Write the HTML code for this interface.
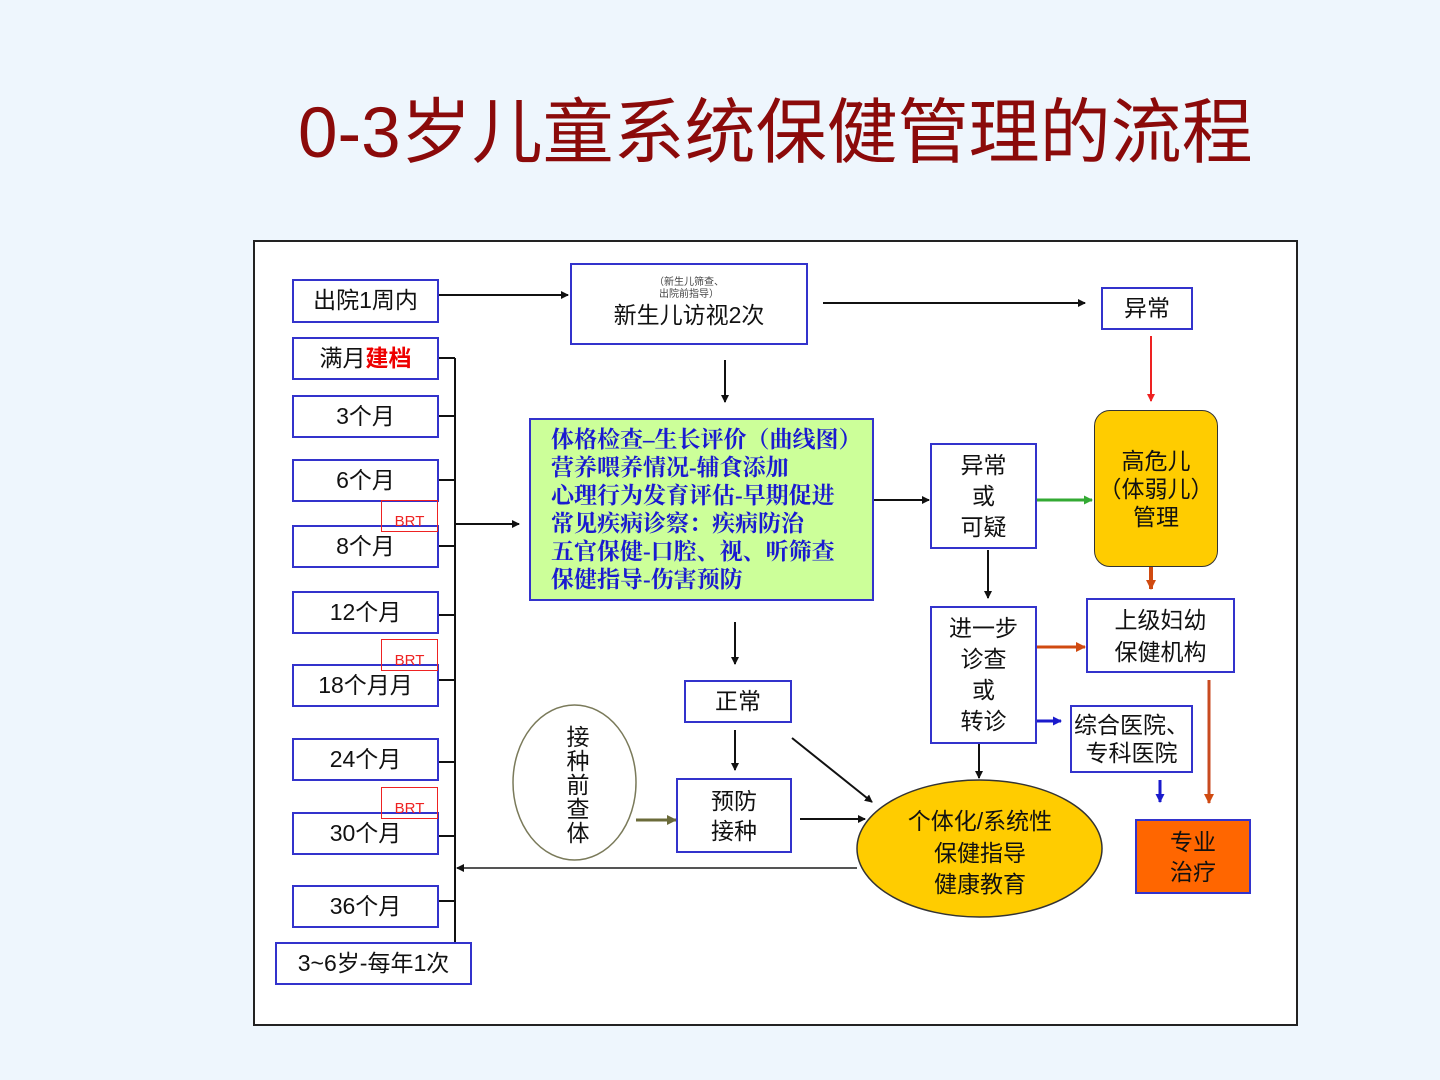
<!DOCTYPE html>
<html><head><meta charset="utf-8"><style>
body{margin:0;width:1440px;height:1080px;background:#eef6fd;position:relative;overflow:hidden;font-family:"Liberation Sans","Noto Sans CJK SC",sans-serif;}
.t{position:absolute;left:298px;top:86px;font-size:71px;color:#8b0a0a;white-space:nowrap;line-height:96px;}
.frame{position:absolute;left:253px;top:240px;width:1041px;height:782px;background:#fff;border:2px solid #222;}
.b{position:absolute;box-sizing:border-box;border:2px solid #3333cc;background:#fff;display:flex;align-items:center;justify-content:center;text-align:center;font-size:23px;color:#111;line-height:1.3;}
.brt{position:absolute;box-sizing:border-box;border:1.5px solid #e22;color:#e22;font-size:15px;display:flex;align-items:flex-end;justify-content:center;padding-bottom:1px;}
svg{position:absolute;left:0;top:0;}
</style></head><body>
<div class="t">0-3岁儿童系统保健管理的流程</div>
<div class="frame"></div>
<svg width="1440" height="1080">
<defs>
<marker id="a" markerWidth="8" markerHeight="8" refX="7" refY="4" orient="auto" markerUnits="userSpaceOnUse"><path d="M0,0 L8,4 L0,8z" fill="#111"/></marker>
<marker id="ar" markerWidth="8" markerHeight="8" refX="7" refY="4" orient="auto" markerUnits="userSpaceOnUse"><path d="M0,0 L8,4 L0,8z" fill="#e22"/></marker>
<marker id="ag" markerWidth="9" markerHeight="9" refX="8" refY="4.5" orient="auto" markerUnits="userSpaceOnUse"><path d="M0,0 L9,4.5 L0,9z" fill="#3a3"/></marker>
<marker id="ao" markerWidth="10" markerHeight="10" refX="9" refY="5" orient="auto" markerUnits="userSpaceOnUse"><path d="M0,0 L10,5 L0,10z" fill="#d04a10"/></marker>
<marker id="ab" markerWidth="9" markerHeight="9" refX="8" refY="4.5" orient="auto" markerUnits="userSpaceOnUse"><path d="M0,0 L9,4.5 L0,9z" fill="#1a1acc"/></marker>
<marker id="av" markerWidth="10" markerHeight="10" refX="9" refY="5" orient="auto" markerUnits="userSpaceOnUse"><path d="M0,0 L10,5 L0,10z" fill="#6b6b3a"/></marker>
</defs>
<g stroke="#111" stroke-width="2" fill="none">
<line x1="455" y1="358" x2="455" y2="942"/>
<line x1="438" y1="358" x2="455" y2="358"/><line x1="438" y1="416" x2="455" y2="416"/><line x1="438" y1="480" x2="455" y2="480"/><line x1="438" y1="546" x2="455" y2="546"/><line x1="438" y1="615" x2="455" y2="615"/><line x1="438" y1="680" x2="455" y2="680"/><line x1="438" y1="762" x2="455" y2="762"/><line x1="438" y1="836" x2="455" y2="836"/><line x1="438" y1="901" x2="455" y2="901"/>
<line x1="455" y1="524" x2="519" y2="524" marker-end="url(#a)"/>
<line x1="438" y1="295" x2="568" y2="295" marker-end="url(#a)"/>
<line x1="823" y1="303" x2="1085" y2="303" marker-end="url(#a)"/>
<line x1="725" y1="360" x2="725" y2="402" marker-end="url(#a)"/>
<line x1="873" y1="500" x2="929" y2="500" marker-end="url(#a)"/>
<line x1="988" y1="550" x2="988" y2="598" marker-end="url(#a)"/>
<line x1="979" y1="743" x2="979" y2="778" marker-end="url(#a)"/>
<line x1="735" y1="622" x2="735" y2="664" marker-end="url(#a)"/>
<line x1="735" y1="730" x2="735" y2="770" marker-end="url(#a)"/>
<line x1="800" y1="819" x2="865" y2="819" marker-end="url(#a)"/>
<line x1="792" y1="738" x2="872" y2="802" marker-end="url(#a)"/>
<line x1="857" y1="868" x2="457" y2="868" stroke="#555" marker-end="url(#a)"/>
</g>
<line x1="1151" y1="336" x2="1151" y2="401" stroke="#e22" stroke-width="2" marker-end="url(#ar)"/>
<line x1="1036" y1="500" x2="1092" y2="500" stroke="#3a3" stroke-width="3" marker-end="url(#ag)"/>
<line x1="1151" y1="567" x2="1151" y2="589" stroke="#d04a10" stroke-width="4" marker-end="url(#ao)"/>
<line x1="1036" y1="647" x2="1085" y2="647" stroke="#d04a10" stroke-width="3" marker-end="url(#ao)"/>
<line x1="1209" y1="680" x2="1209" y2="803" stroke="#c84a20" stroke-width="3" marker-end="url(#ao)"/>
<line x1="1036" y1="721" x2="1061" y2="721" stroke="#1a1acc" stroke-width="3" marker-end="url(#ab)"/>
<line x1="1160" y1="780" x2="1160" y2="802" stroke="#1a1acc" stroke-width="3" marker-end="url(#ab)"/>
<line x1="636" y1="820" x2="676" y2="820" stroke="#6b6b3a" stroke-width="3" marker-end="url(#av)"/>
<ellipse cx="574.5" cy="782.5" rx="61.5" ry="77.5" fill="#fff" stroke="#7a7a5a" stroke-width="1.5"/>
<ellipse cx="979.5" cy="848.5" rx="122.5" ry="68.5" fill="#ffcc00" stroke="#333" stroke-width="1.5"/>
<text x="578" y="733" font-size="23" fill="#111" text-anchor="middle" font-family="Liberation Sans,Noto Sans CJK SC,sans-serif">
<tspan x="578" dy="12">接</tspan><tspan x="578" dy="24">种</tspan><tspan x="578" dy="24">前</tspan><tspan x="578" dy="24">查</tspan><tspan x="578" dy="24">体</tspan></text>
<text text-anchor="middle" font-size="23" fill="#111" font-family="Liberation Sans,Noto Sans CJK SC,sans-serif"><tspan x="980" y="829">个体化/系统性</tspan><tspan x="980" y="861">保健指导</tspan><tspan x="980" y="892">健康教育</tspan></text>
</svg>
<div class="b" style="left:292px;top:279px;width:147px;height:44px;">出院1周内</div>
<div class="b" style="left:292px;top:337px;width:147px;height:43px;">满月<b style="color:#e00">建档</b></div>
<div class="b" style="left:292px;top:395px;width:147px;height:43px;">3个月</div>
<div class="b" style="left:292px;top:459px;width:147px;height:43px;">6个月</div>
<div class="b" style="left:292px;top:525px;width:147px;height:43px;">8个月</div>
<div class="b" style="left:292px;top:591px;width:147px;height:43px;">12个月</div>
<div class="b" style="left:292px;top:664px;width:147px;height:43px;">18个月月</div>
<div class="b" style="left:292px;top:738px;width:147px;height:43px;">24个月</div>
<div class="b" style="left:292px;top:812px;width:147px;height:43px;">30个月</div>
<div class="b" style="left:292px;top:885px;width:147px;height:43px;">36个月</div>
<div class="b" style="left:275px;top:942px;width:197px;height:43px;">3~6岁-每年1次</div>
<div class="brt" style="left:381px;top:500px;width:57px;height:32px;">BRT</div>
<div class="brt" style="left:381px;top:639px;width:57px;height:32px;">BRT</div>
<div class="brt" style="left:381px;top:787px;width:57px;height:32px;">BRT</div>
<div class="b" style="left:570px;top:263px;width:238px;height:82px;flex-direction:column;"><div style="font-size:10px;line-height:12px;color:#444">（新生儿筛查、<br>出院前指导）</div><div>新生儿访视2次</div></div>
<div class="b" style="left:1101px;top:287px;width:92px;height:43px;">异常</div>
<div class="b" style="left:529px;top:418px;width:345px;height:183px;background:#ccff99;color:#1a1ad0;font-weight:bold;font-family:'Liberation Serif','Noto Serif CJK SC',serif;font-size:23px;line-height:28px;justify-content:flex-start;text-align:left;padding-left:20px;white-space:nowrap;">体格检查–生长评价（曲线图）<br>营养喂养情况-辅食添加<br>心理行为发育评估-早期促进<br>常见疾病诊察：疾病防治<br>五官保健-口腔、视、听筛查<br>保健指导-伤害预防</div>
<div class="b" style="left:930px;top:443px;width:107px;height:106px;line-height:31px;">异常<br>或<br>可疑</div>
<div class="b" style="left:1094px;top:410px;width:124px;height:157px;background:#ffcc00;border:1.5px solid #333;border-radius:16px;line-height:28px;">高危儿<br>（体弱儿）<br>管理</div>
<div class="b" style="left:1086px;top:598px;width:149px;height:75px;line-height:32px;">上级妇幼<br>保健机构</div>
<div class="b" style="left:930px;top:606px;width:107px;height:138px;line-height:31px;">进一步<br>诊查<br>或<br>转诊</div>
<div class="b" style="left:1070px;top:705px;width:123px;height:68px;line-height:28px;">综合医院、<br>专科医院</div>
<div class="b" style="left:1135px;top:819px;width:116px;height:75px;background:#ff6600;line-height:30px;">专业<br>治疗</div>
<div class="b" style="left:684px;top:680px;width:108px;height:43px;">正常</div>
<div class="b" style="left:676px;top:778px;width:116px;height:75px;line-height:30px;">预防<br>接种</div>
</body></html>
